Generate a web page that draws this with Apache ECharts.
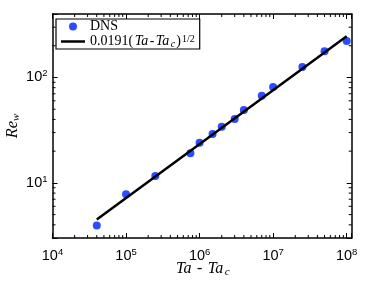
<!DOCTYPE html>
<html>
<head>
<meta charset="utf-8">
<script src="https://cdn.jsdelivr.net/npm/echarts@6/dist/echarts.min.js"></script>
<style>html,body{margin:0;padding:0;background:#fff}#c{width:374px;height:281px}</style>
</head>
<body>
<div id="c"></div>
<script>
// Data
var dnsX = [4e4, 1e5, 2.5e5, 7.5e5, 1e6, 1.5e6, 2e6, 3e6, 4e6, 7e6, 1e7, 2.5e7, 5e7, 1e8];
var dnsY = [3.95, 7.8, 11.6, 19.1, 24.0, 29.1, 34.1, 40.4, 49.2, 67, 81, 126, 177, 222];
var fitX = [4e4, 1e8];
var fitY = [4.5, 246];
var xRange = [1e4, 1.17e8];
var yRange = [3, 400];
var legendNames = ['DNS', '0.0191(Ta-Ta_c)^{1/2}'];

var chart = echarts.init(document.getElementById('c'), null, {renderer: 'canvas'});

function powLabel(v) {
  var e = Math.round(Math.log10(v));
  if (Math.abs(v - Math.pow(10, e)) / v > 1e-6) return '';
  return '{b|10}{sup|' + e + '}';
}

// minor tick positions (2..9 x 10^k) strictly inside the axis ranges
function minorValues(r) {
  var out = [];
  for (var p = -2; p < 12; p++) {
    for (var k = 2; k <= 9; k++) {
      var v = k * Math.pow(10, p);
      if (v > r[0] * 1.0001 && v < r[1] * 0.9999) out.push(v);
    }
  }
  return out;
}
var tickData = [];
minorValues(xRange).forEach(function (v) {
  tickData.push([v, yRange[0], 0]);
  tickData.push([v, yRange[1], 1]);
});
minorValues(yRange).forEach(function (v) {
  tickData.push([xRange[0], v, 2]);
  tickData.push([xRange[1], v, 3]);
});

var SANS = 'Liberation Sans, Arial, Helvetica, sans-serif';
var SERIF = 'Liberation Serif, Times New Roman, serif';

var labelRich = {
  b: {fontSize: 14.5, fontFamily: SANS, color: '#000', lineHeight: 18},
  sup: {fontSize: 9.5, fontFamily: SANS, color: '#000', verticalAlign: 'top', lineHeight: 10}
};

var axisCommon = {
  type: 'log',
  logBase: 10,
  axisLine: {show: true, lineStyle: {color: '#000', width: 1.5}},
  axisTick: {show: true, inside: true, length: 5, lineStyle: {color: '#000', width: 1}},
  splitLine: {show: false},
  minorTick: {show: false},
  minorSplitLine: {show: false}
};

var option = {
  animation: false,
  backgroundColor: '#fff',
  grid: {left: 52.5, right: 22.3, top: 14, bottom: 43, containLabel: false, outerBoundsMode: 'none'},
  xAxis: [
    Object.assign({}, axisCommon, {
      position: 'bottom', min: xRange[0], max: xRange[1],
      axisLabel: {show: true, margin: 9, formatter: powLabel, color: '#000',
        fontFamily: SANS, fontSize: 14.5, lineHeight: 18, rich: labelRich},
      name: '{i|Ta} - {i|Ta}{sub|c}',
      nameLocation: 'middle', nameGap: 22, nameMoveOverlap: false,
      nameTextStyle: {color: '#000', fontFamily: SERIF, fontSize: 16, lineHeight: 18,
        rich: {
          i: {fontFamily: SERIF, fontStyle: 'italic', fontSize: 16, lineHeight: 18, color: '#000', padding: [0, 1.5, 0, 1.5]},
          sub: {fontFamily: SERIF, fontStyle: 'italic', fontSize: 11, lineHeight: 12, verticalAlign: 'bottom', color: '#000'}
        }}
    }),
    Object.assign({}, axisCommon, {
      position: 'top', min: xRange[0], max: xRange[1], axisLabel: {show: false}
    })
  ],
  yAxis: [
    Object.assign({}, axisCommon, {
      position: 'left', min: yRange[0], max: yRange[1],
      axisLabel: {show: true, margin: 5, formatter: powLabel, color: '#000',
        fontFamily: SANS, fontSize: 14.5, lineHeight: 18, rich: labelRich},
      name: '{i|Re}{sub|w}',
      nameLocation: 'middle', nameGap: 31, nameMoveOverlap: false,
      nameTextStyle: {color: '#000', fontFamily: SERIF, fontSize: 16.5, lineHeight: 18,
        rich: {
          i: {fontFamily: SERIF, fontStyle: 'italic', fontSize: 16.5, lineHeight: 18, color: '#000'},
          sub: {fontFamily: SERIF, fontStyle: 'italic', fontSize: 11, lineHeight: 12, verticalAlign: 'bottom', color: '#000'}
        }}
    }),
    Object.assign({}, axisCommon, {
      position: 'right', min: yRange[0], max: yRange[1], axisLabel: {show: false}
    })
  ],
  legend: {
    left: 56, top: 19, orient: 'vertical', z: 10,
    padding: [0, 5, 0, 5], itemGap: 0, itemWidth: 24, itemHeight: 8,
    borderColor: '#000', borderWidth: 1.2, backgroundColor: '#fff', borderRadius: 0,
    data: [
      {name: legendNames[0], icon: 'circle'},
      {name: legendNames[1], icon: 'path://M0,0L24,0L24,2.5L0,2.5Z'}
    ],
    formatter: function (name) {
      if (name === legendNames[1]) return '0.0191({i|Ta}-{i|Ta}{sub|c}){sup|1/2}';
      return name;
    },
    textStyle: {color: '#000', fontFamily: SERIF, fontSize: 14, lineHeight: 15,
      rich: {
        i: {fontFamily: SERIF, fontStyle: 'italic', fontSize: 14, lineHeight: 15, color: '#000', padding: [0, 1.5, 0, 1.5]},
        sub: {fontFamily: SERIF, fontStyle: 'italic', fontSize: 10, lineHeight: 10, verticalAlign: 'bottom', color: '#000', padding: [0, 1, 0, 0]},
        sup: {fontFamily: SERIF, fontSize: 10, lineHeight: 10, verticalAlign: 'top', color: '#000', padding: [0, 0, 0, 1]}
      }}
  },
  series: [
    {
      name: legendNames[0], type: 'scatter', xAxisIndex: 0, yAxisIndex: 0,
      symbol: 'circle', symbolSize: 8,
      itemStyle: {color: '#2b4cff', opacity: 1},
      data: dnsX.map(function (x, i) { return [x, dnsY[i]]; }),
      z: 2
    },
    {
      name: legendNames[1], type: 'line', xAxisIndex: 0, yAxisIndex: 0,
      symbol: 'none', showSymbol: false,
      lineStyle: {color: '#000', width: 2.5},
      itemStyle: {color: '#000'},
      data: fitX.map(function (x, i) { return [x, fitY[i]]; }),
      z: 3
    },
    {
      name: 'minorTicks', type: 'custom', xAxisIndex: 0, yAxisIndex: 0,
      silent: true, clip: false, z: 4,
      data: tickData,
      renderItem: function (params, api) {
        var p = api.coord([api.value(0), api.value(1)]);
        var d = api.value(2), L = 3;
        var x2 = p[0], y2 = p[1];
        if (d === 0) y2 = p[1] - L;
        else if (d === 1) y2 = p[1] + L;
        else if (d === 2) x2 = p[0] + L;
        else x2 = p[0] - L;
        return {type: 'line', shape: {x1: p[0], y1: p[1], x2: x2, y2: y2},
          style: {stroke: '#000', lineWidth: 1}};
      }
    }
  ]
};
chart.setOption(option);
</script>
</body>
</html>
